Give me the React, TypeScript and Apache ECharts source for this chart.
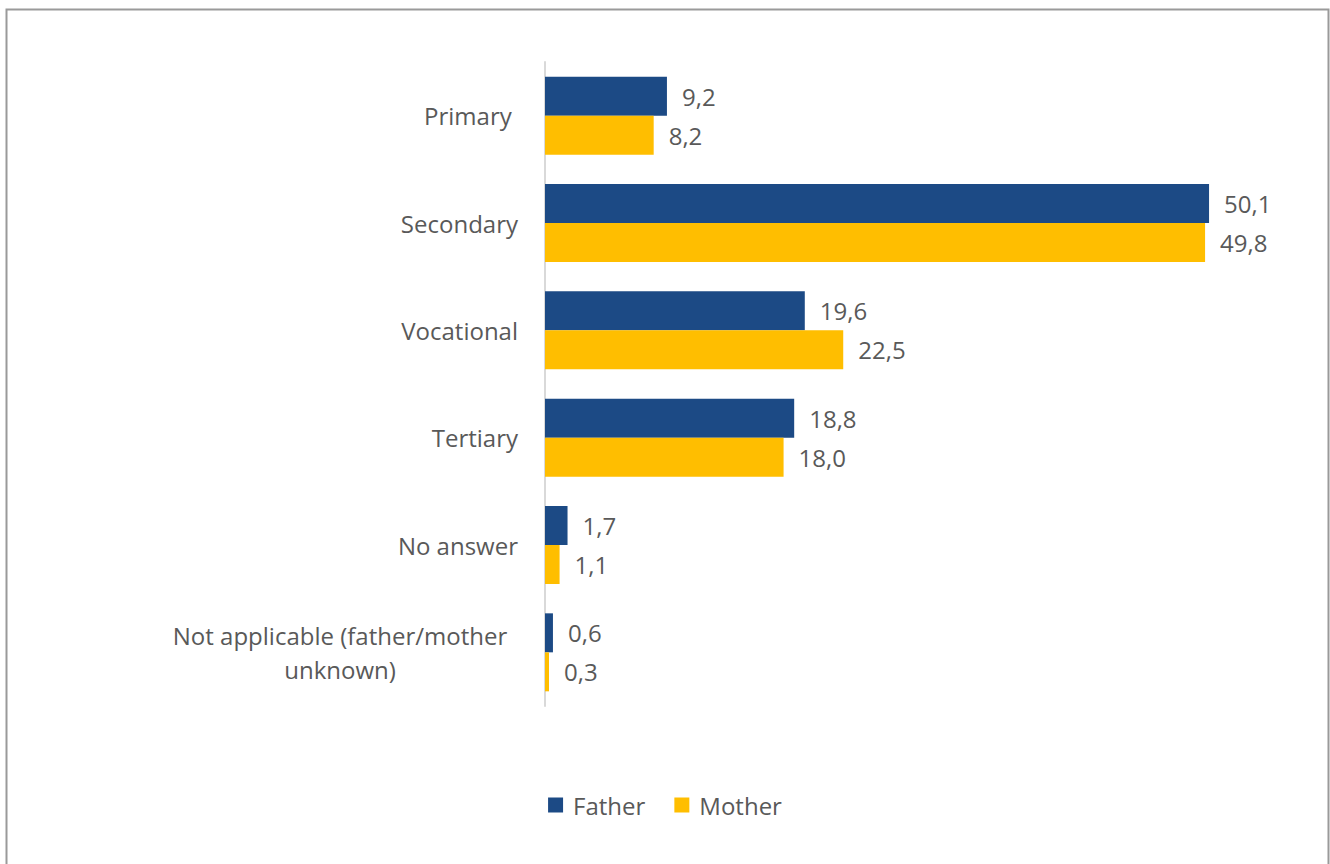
import React, { useEffect, useRef } from "react";
import * as echarts from "echarts";

const categories = [
  "Primary ",
  "Secondary",
  "Vocational",
  "Tertiary",
  "No answer",
  "Not applicable (father/mother unknown)",
];
const fatherValues = [9.2, 50.1, 19.6, 18.8, 1.7, 0.6];
const motherValues = [8.2, 49.8, 22.5, 18.0, 1.1, 0.3];
const seriesNames = ["Father", "Mother"];

const FONT = "'Open Sans', 'Noto Sans', sans-serif";
const TEXT = "#595959";
const FS = 24;

export default function App() {
  const ref = useRef<HTMLDivElement>(null);
  useEffect(() => {
    if (!ref.current) return;
    const chart = echarts.init(ref.current, undefined, { renderer: "svg" });
    const fmt = (p: any) => Number(p.value).toFixed(1).replace(".", ",");
    chart.setOption({
      animation: false,
      backgroundColor: "#ffffff",
      textStyle: { fontFamily: FONT },
      graphic: [
        {
          type: "rect",
          shape: { x: 6.5, y: 9.5, width: 1322, height: 900 },
          style: { fill: "none", stroke: "#9a9a9a", lineWidth: 2 },
          silent: true,
        },
      ],
      grid: { left: 545, right: 56, top: 62, bottom: 158, containLabel: false },
      legend: {
        data: seriesNames,
        left: "center",
        top: 788,
        itemWidth: 15,
        itemHeight: 15,
        itemGap: 29,
        icon: "rect",
        textStyle: { fontSize: FS, color: TEXT, fontFamily: FONT, padding: [0, 0, 0, 5] },
      },
      xAxis: {
        type: "value",
        min: 0,
        max: 55,
        show: false,
      },
      yAxis: {
        type: "category",
        data: categories,
        inverse: true,
        axisLine: { show: true, lineStyle: { color: "#d9d9d9", width: 2 } },
        axisTick: { show: false },
        axisLabel: {
          margin: 27,
          fontSize: FS,
          color: TEXT,
          fontFamily: FONT,
          formatter: (v: string) =>
            v.startsWith("Not applicable")
              ? "{c|Not applicable (father/mother}\n{c|unknown)}"
              : v,
          rich: {
            c: {
              width: 356,
              align: "center",
              fontSize: FS,
              color: TEXT,
              fontFamily: FONT,
              lineHeight: 34,
            },
          },
        },
      },
      series: [
        {
          name: seriesNames[0],
          type: "bar",
          data: fatherValues,
          barWidth: 39,
          barGap: "0%",
          itemStyle: { color: "#1C4A85" },
          label: {
            show: true,
            position: "right",
            distance: 15,
            fontSize: FS,
            color: TEXT,
            fontFamily: FONT,
            formatter: fmt,
          },
        },
        {
          name: seriesNames[1],
          type: "bar",
          data: motherValues,
          barWidth: 39,
          barGap: "0%",
          itemStyle: { color: "#FFBE00" },
          label: {
            show: true,
            position: "right",
            distance: 15,
            fontSize: FS,
            color: TEXT,
            fontFamily: FONT,
            formatter: fmt,
          },
        },
      ],
    });
    return () => chart.dispose();
  }, []);
  return (
    <div
      ref={ref}
      style={{ position: "absolute", left: 0, top: 0, width: 1330, height: 864 }}
    />
  );
}
